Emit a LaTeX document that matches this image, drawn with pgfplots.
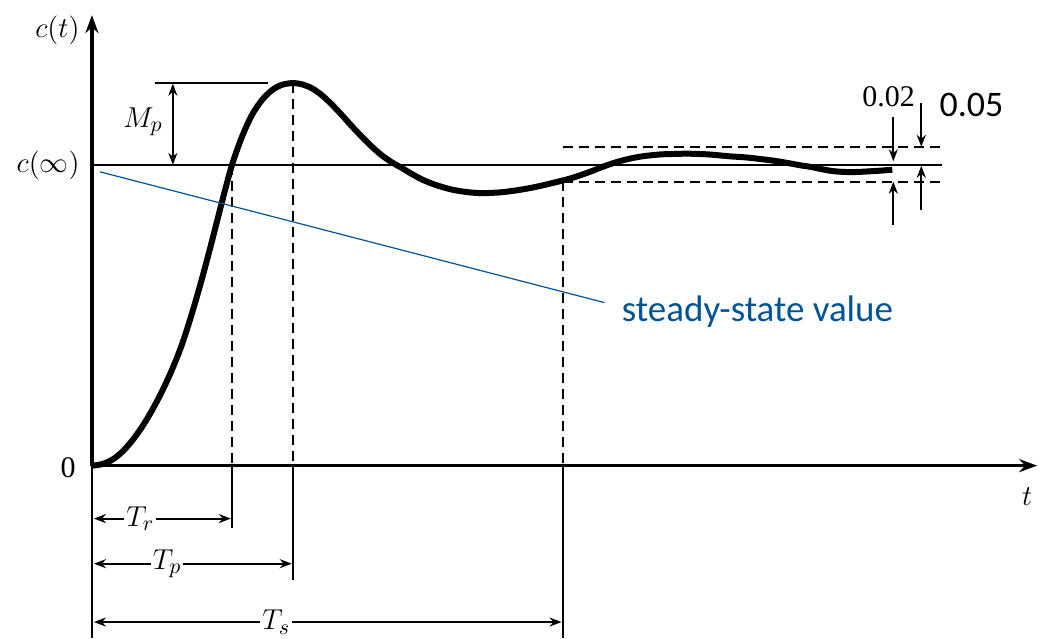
\documentclass[border=0pt]{standalone}
\usepackage{pgfplots}
\pgfplotsset{compat=1.18}
\usepackage{fontspec}
\setmainfont{Liberation Serif}
\newfontfamily\calibri{Carlito}
\usetikzlibrary{arrows.meta}
\definecolor{ssblue}{RGB}{0,84,150}
\begin{document}
\begin{tikzpicture}
\begin{axis}[scale only axis, width=519.5pt, height=319pt,
  xmin=-92, xmax=947, ymin=-0.5714, ymax=1.5482,
  hide axis, clip=false]
% bounding frame (invisible)
\path (axis cs:-92,-0.5714) rectangle (axis cs:947,1.5482);
% step response
\addplot[smooth, tension=0.5, line width=3pt, black, line join=round] coordinates {
(0,0) (10,0.005) (20,0.019) (30,0.045) (40,0.082) (50,0.128) (60,0.183)
(70,0.246) (80,0.318) (90,0.402) (100,0.505) (110,0.620) (120,0.745)
(130,0.875) (140,0.998) (150,1.092) (160,1.165) (170,1.215) (180,1.248)
(190,1.266) (201,1.272) (210,1.268) (220,1.255) (230,1.232) (240,1.201)
(250,1.166) (260,1.129) (270,1.094) (280,1.061) (290,1.032) (300,1.009)
(310,0.990) (320,0.970) (330,0.952) (340,0.938) (350,0.927) (360,0.918)
(370,0.912) (380,0.908) (390,0.906) (400,0.907) (410,0.909) (420,0.913)
(430,0.918) (440,0.924) (450,0.931) (460,0.939) (470,0.947) (480,0.956)
(490,0.967) (500,0.979) (510,0.992) (520,1.004) (530,1.014) (540,1.022)
(550,1.028) (560,1.032) (570,1.035) (580,1.036) (590,1.037) (600,1.037)
(610,1.036) (620,1.034) (630,1.031) (640,1.028) (650,1.026) (660,1.023)
(670,1.019) (680,1.015) (690,1.010) (700,1.004) (710,0.998) (720,0.993)
(730,0.986) (740,0.980) (750,0.977) (760,0.976) (770,0.977) (780,0.979)
(790,0.981) (801,0.984)};
% steady-state line
\draw[line width=1pt] (axis cs:0,1) -- (axis cs:851,1);
% tolerance band
\draw[line width=1pt, dash pattern=on 5pt off 3pt] (axis cs:471,1.06) -- (axis cs:851,1.06);
\draw[line width=1pt, dash pattern=on 5pt off 3pt] (axis cs:471,0.944) -- (axis cs:851,0.944);
% axes
\draw[line width=1.8pt, -{Stealth[length=9pt,width=6.5pt]}] (axis cs:0,0) -- (axis cs:946,0);
\draw[line width=1.8pt, -{Stealth[length=9pt,width=6.5pt]}] (axis cs:0,0) -- (axis cs:0,1.498);
\draw[line width=1pt] (axis cs:0,0) -- (axis cs:0,-0.5714);
% vertical markers
\draw[line width=1pt, dash pattern=on 5pt off 3pt] (axis cs:140,1.0) -- (axis cs:140,0);
\draw[line width=1pt] (axis cs:140,0) -- (axis cs:140,-0.206);
\draw[line width=1pt, dash pattern=on 5pt off 3pt] (axis cs:201,1.272) -- (axis cs:201,0);
\draw[line width=1pt] (axis cs:201,0) -- (axis cs:201,-0.379);
\draw[line width=1pt, dash pattern=on 5pt off 3pt] (axis cs:471,0.947) -- (axis cs:471,0);
\draw[line width=1pt] (axis cs:471,0) -- (axis cs:471,-0.5714);
% time dimension arrows
\draw[line width=1pt, {Stealth[length=6pt,width=4.5pt]}-{Stealth[length=6pt,width=4.5pt]}] (axis cs:2,-0.176) -- (axis cs:139,-0.176)
  node[pos=0.34, fill=white, inner sep=1pt, font=\fontsize{15}{17}\selectfont] {$T_r$};
\draw[line width=1pt, {Stealth[length=6pt,width=4.5pt]}-{Stealth[length=6pt,width=4.5pt]}] (axis cs:2,-0.326) -- (axis cs:200,-0.326)
  node[pos=0.37, fill=white, inner sep=1pt, font=\fontsize{15}{17}\selectfont] {$T_p$};
\draw[line width=1pt, {Stealth[length=6pt,width=4.5pt]}-{Stealth[length=6pt,width=4.5pt]}] (axis cs:2,-0.52) -- (axis cs:470,-0.52)
  node[pos=0.39, fill=white, inner sep=1pt, font=\fontsize{15}{17}\selectfont] {$T_s$};
% overshoot
\draw[line width=1pt] (axis cs:63,1.272) -- (axis cs:176,1.272);
\draw[line width=1pt, {Stealth[length=6pt,width=4.5pt]}-{Stealth[length=6pt,width=4.5pt]}] (axis cs:81,1.27) -- (axis cs:81,1.0);
\node[font=\fontsize{15}{17}\selectfont] at (axis cs:51,1.143) {$M_p$};
% tolerance arrows
\draw[line width=1pt, -{Stealth[length=6pt,width=4.5pt]}] (axis cs:802,1.159) -- (axis cs:802,1.012);
\draw[line width=1pt, -{Stealth[length=6pt,width=4.5pt]}] (axis cs:802,0.801) -- (axis cs:802,0.944);
\draw[line width=1pt, -{Stealth[length=6pt,width=4.5pt]}] (axis cs:830,1.206) -- (axis cs:830,1.06);
\draw[line width=1pt, -{Stealth[length=6pt,width=4.5pt]}] (axis cs:830,0.85) -- (axis cs:830,0.997);
\node[anchor=east, font=\fontsize{15}{17}\selectfont, inner sep=0pt] at (axis cs:824,1.226) {0.02};
\node[anchor=west, font=\calibri\fontsize{18}{20}\selectfont, inner sep=0pt] at (axis cs:848,1.199) {0.05};
% steady-state pointer
\draw[ssblue, line width=0.6pt] (axis cs:8,0.977) -- (axis cs:513,0.542);
\node[anchor=west, text=ssblue, font=\calibri\fontsize{18.5}{20}\selectfont, inner sep=0pt] at (axis cs:530,0.511) {steady-state value};
% axis labels
\node[anchor=east, font=\fontsize{15}{17}\selectfont, inner sep=0pt] at (axis cs:-12,1.449) {$c(t)$};
\node[anchor=east, font=\fontsize{15}{17}\selectfont, inner sep=0pt] at (axis cs:-12,1.0) {$c(\infty)$};
\node[anchor=east, font=\fontsize{15}{17}\selectfont, inner sep=0pt] at (axis cs:-16,-0.007) {0};
\node[font=\fontsize{15}{17}\selectfont] at (axis cs:936,-0.103) {$t$};
\end{axis}
\end{tikzpicture}
\end{document}
